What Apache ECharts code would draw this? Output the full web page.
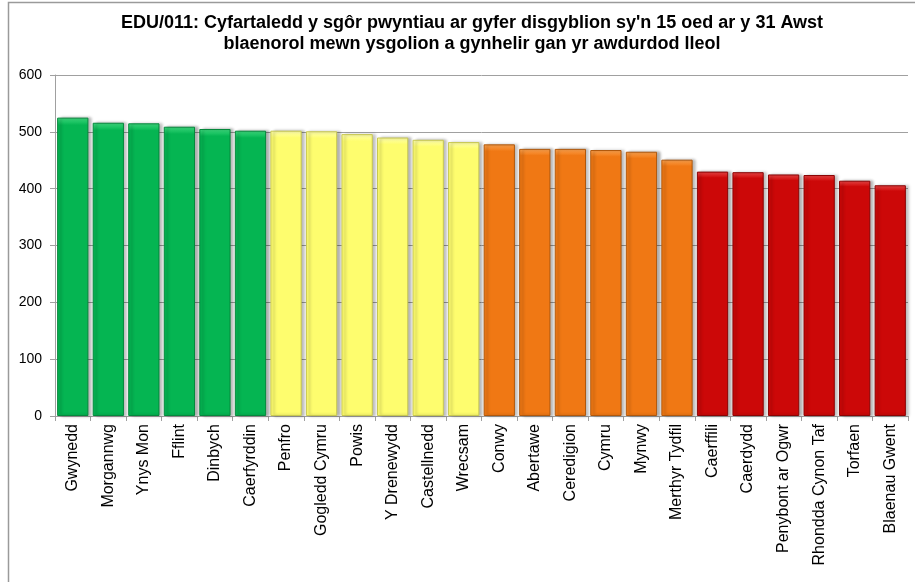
<!DOCTYPE html>
<html lang="cy">
<head>
    <meta charset="UTF-8">
    <title>EDU/011</title>
    <script src="https://cdn.jsdelivr.net/npm/echarts@6/dist/echarts.min.js"></script>
</head>
<body style="margin:0;background:#fff;">
<div id="main" style="width: 915px;height:582px;"></div>
<script type="text/javascript">
    // awdurdodau lleol, wedi'u trefnu o'r uchaf i'r isaf
    var categories = ["Gwynedd", "Morgannwg", "Ynys Mon", "Fflint", "Dinbych", "Caerfyrddin",
        "Penfro", "Gogledd Cymru", "Powis", "Y Drenewydd", "Castellnedd", "Wrecsam",
        "Conwy", "Abertawe", "Ceredigion", "Cymru", "Mynwy", "Merthyr Tydfil",
        "Caerffili", "Caerdydd", "Penybont ar Ogwr", "Rhondda Cynon Taf", "Torfaen", "Blaenau Gwent"];
    var scores = [525, 516, 515, 509, 505, 502,
        502, 501, 496, 490, 486, 482,
        478, 470, 470, 468, 465, 451,
        430, 429, 425, 424, 414, 406];
    // chwarteli: 6 ym mhob grŵp
    var quartileSize = 6;
    var yTicks = [0, 100, 200, 300, 400, 500, 600];

    var quartileColors = [
        {top: "#3fdc7f", base: "#05b552", edge: "#05883c"},
        {top: "#ffffb0", base: "#fefd6e", edge: "#c8c850"},
        {top: "#ffa550", base: "#f07814", edge: "#b0580c"},
        {top: "#f04848", base: "#cc0808", edge: "#8a0404"}
    ];

    var myChart = echarts.init(document.getElementById("main"));

    var barData = scores.map(function (v, i) {
        var c = quartileColors[Math.floor(i / quartileSize)];
        return {
            value: v,
            itemStyle: {
                color: new echarts.graphic.LinearGradient(0, 0, 0, 1, [
                    {offset: 0, color: c.top},
                    {offset: 0.025, color: c.base},
                    {offset: 1, color: c.base}
                ]),
                borderColor: c.edge,
                borderWidth: 1
            }
        };
    });

    var option = {
        animation: false,
        textStyle: {fontFamily: "Liberation Sans, Arial, sans-serif"},
        title: {
            text: "EDU/011: Cyfartaledd y sgôr pwyntiau ar gyfer disgyblion sy'n 15 oed ar y 31 Awst\nblaenorol mewn ysgolion a gynhelir gan yr awdurdod lleol",
            left: 467,
            top: 8,
            textAlign: "center",
            textStyle: {
                fontSize: 18,
                fontWeight: "bold",
                color: "#000",
                lineHeight: 21,
                fontFamily: "Liberation Sans, Arial, sans-serif"
            }
        },
        graphic: [{
            type: "rect",
            shape: {x: 8.5, y: 2.5, width: 930, height: 620},
            style: {fill: "none", stroke: "#9a9a9a", lineWidth: 1.5},
            silent: true,
            z: -1
        }],
        grid: {
            left: 55,
            right: 7,
            top: 75,
            bottom: 166
        },
        xAxis: {
            type: "category",
            data: categories,
            axisLine: {lineStyle: {color: "#a0a0a0"}},
            axisTick: {show: true, length: 5, lineStyle: {color: "#a0a0a0"}},
            axisLabel: {
                rotate: 90,
                interval: 0,
                fontSize: 16,
                color: "#000",
                margin: 8
            }
        },
        yAxis: {
            type: "value",
            min: yTicks[0],
            max: yTicks[yTicks.length - 1],
            interval: 100,
            axisLine: {show: true, lineStyle: {color: "#a0a0a0"}},
            axisTick: {show: true, length: 5, lineStyle: {color: "#a0a0a0"}},
            axisLabel: {fontSize: 14, color: "#000", margin: 13},
            splitLine: {lineStyle: {color: "#a0a0a0"}}
        },
        series: [{
            type: "bar",
            data: barData,
            barCategoryGap: "12%",
            itemStyle: {
                shadowColor: "rgba(0,0,0,0.3)",
                shadowBlur: 3,
                shadowOffsetX: 3,
                shadowOffsetY: 0
            }
        }]
    };

    myChart.setOption(option);
</script>
</body>
</html>
